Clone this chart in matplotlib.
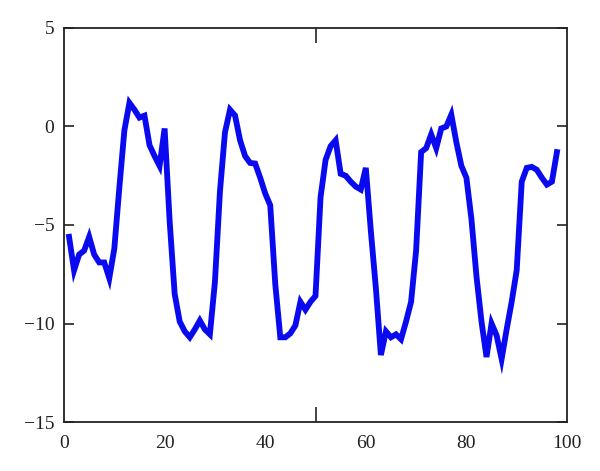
import matplotlib
matplotlib.use("Agg")
import matplotlib.pyplot as plt
from matplotlib.ticker import FixedLocator

x_values = list(range(1, 99))
y_values = [
    -5.6, -7.3, -6.5, -6.3, -5.6, -6.5, -6.9, -6.9, -7.7, -6.2,
    -3.1, -0.2, 1.2, 0.85, 0.45, 0.55, -0.95, -1.5, -2.0, -0.1,
    -4.8, -8.5, -9.9, -10.4, -10.7, -10.3, -9.85, -10.3, -10.55, -7.9,
    -3.3, -0.3, 0.85, 0.56, -0.7, -1.5, -1.85, -1.88, -2.6, -3.4,
    -4.0, -8.0, -10.7, -10.7, -10.5, -10.1, -8.9, -9.3, -8.9, -8.6,
    -3.6, -1.7, -1.0, -0.7, -2.4, -2.5, -2.8, -3.05, -3.2, -2.1,
    -5.3, -8.2, -11.6, -10.4, -10.7, -10.55, -10.8, -9.9, -8.9, -6.3,
    -1.3, -1.1, -0.4, -1.1, -0.1, 0.0, 0.6, -0.8, -2.0, -2.6,
    -4.7, -7.6, -9.9, -11.7, -10.0, -10.6, -11.8, -10.3, -8.9, -7.3,
    -2.8, -2.1, -2.05, -2.2, -2.6, -2.95, -2.8, -1.3,
]
x_ticks = [0, 20, 40, 60, 80, 100]
y_ticks = [-15, -10, -5, 0, 5]

plt.rcParams['font.family'] = ['Liberation Serif', 'DejaVu Serif']

fig = plt.figure(figsize=(6.0, 4.71), dpi=100)
ax = fig.add_axes([0.1067, 0.104, 0.8383, 0.8366])

ax.plot(x_values, y_values, color='#0a0af0', linewidth=4.2, solid_joinstyle='miter')

ax.set_xlim(0, 100)
ax.set_ylim(-15, 5)
ax.set_xticks(x_ticks)
ax.set_yticks(y_ticks)
ax.xaxis.set_minor_locator(FixedLocator([50]))

for s in ax.spines.values():
    s.set_linewidth(1.3)
    s.set_color('#222222')

ax.tick_params(axis='x', which='major', length=0, pad=9, labelsize=14, labelcolor='#222222')
ax.tick_params(axis='x', which='minor', direction='in', length=11, width=1.2,
               top=True, bottom=True, color='#222222')
ax.tick_params(axis='y', which='major', direction='in', length=7, width=1.2,
               left=True, right=True, pad=7, labelsize=14, color='#222222',
               labelcolor='#222222')

fig.savefig('out.png', dpi=100)
